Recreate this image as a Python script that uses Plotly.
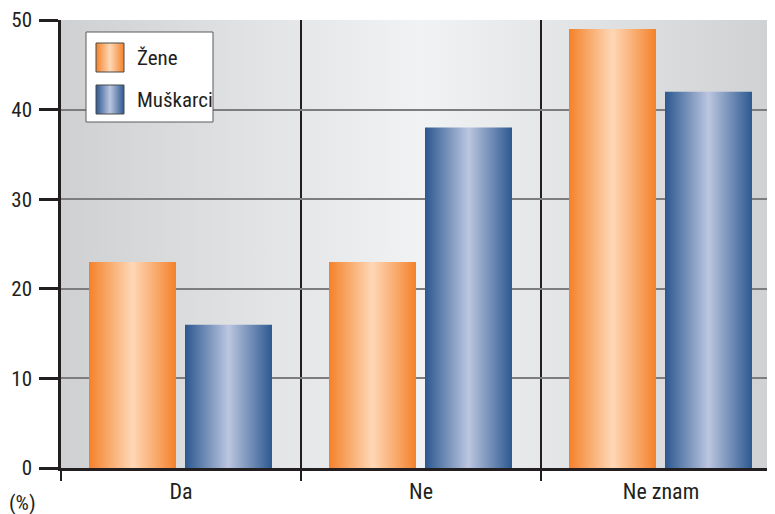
import base64
import plotly.graph_objects as go

# ---- data ----
categories = ["Da", "Ne", "Ne znam"]
series_names = ["Žene", "Muškarci"]
zene = [23, 23, 49]
muskarci = [16, 38, 42]
y_ticks = [0, 10, 20, 30, 40, 50]
y_label = "(%)"

FONT = "Liberation Sans Narrow, Roboto Condensed, DejaVu Sans Condensed, Arial Narrow, sans-serif"
DARK = "#231f20"
orange_scale = [[0, "#f4812a"], [0.5, "#fed8b6"], [1, "#f4822c"]]
blue_scale = [[0, "#2b5790"], [0.5, "#bcc6e0"], [1, "#2c5990"]]

n = len(categories)
bar_w = 87 / 240
left_pad = 28 / 240
inner_gap = 9 / 240

fig = go.Figure()

series = [(zene, orange_scale), (muskarci, blue_scale)]
for s_idx, (vals, scale) in enumerate(series):
    for i, v in enumerate(vals):
        x0 = i - 0.5 + left_pad + s_idx * (bar_w + inner_gap)
        x1 = x0 + bar_w
        fig.add_trace(go.Scatter(
            x=[x0, x1, x1, x0, x0], y=[0, 0, v, v, 0],
            mode="lines", fill="toself",
            line=dict(width=0, color="rgba(0,0,0,0)"),
            fillgradient=dict(type="horizontal", colorscale=scale),
            name=series_names[s_idx], showlegend=False,
            hovertemplate=f"{categories[i]}<br>{series_names[s_idx]}: {v}%<extra></extra>",
        ))

# ---- custom legend (overlay axes in page-pixel units) ----
def rect(x0, y0, x1, y1):
    return [x0, x1, x1, x0, x0], [y0, y0, y1, y1, y0]

bx, by = rect(86, 32, 213, 122)
fig.add_trace(go.Scatter(x=bx, y=by, xaxis="x2", yaxis="y2", mode="lines", fill="toself",
                         fillcolor="white", line=dict(color="#5a5a5a", width=1),
                         showlegend=False, hoverinfo="skip"))
for k, (scale, ytop) in enumerate([(orange_scale, 43), (blue_scale, 85)]):
    sx, sy = rect(96, ytop, 124, ytop + 29)
    fig.add_trace(go.Scatter(x=sx, y=sy, xaxis="x2", yaxis="y2", mode="lines", fill="toself",
                             fillgradient=dict(type="horizontal", colorscale=scale),
                             line=dict(color="#4a4a4a", width=1),
                             showlegend=False, hoverinfo="skip"))
    fig.add_annotation(x=135, y=ytop + 15, xref="x2", yref="y2", text=series_names[k],
                       showarrow=False, xanchor="left", yanchor="middle",
                       font=dict(family=FONT, size=21, color=DARK))

# ---- background gradient ----
svg = ('<svg xmlns="http://www.w3.org/2000/svg" width="300" height="100" viewBox="0 0 300 100" '
       'preserveAspectRatio="none"><defs><linearGradient id="g" x1="0" y1="0" x2="1" y2="0">'
       '<stop offset="0" stop-color="#cfd0d2"/><stop offset="0.5" stop-color="#f1f2f4"/>'
       '<stop offset="1" stop-color="#cfd0d2"/></linearGradient></defs>'
       '<rect width="300" height="100" fill="url(#g)"/></svg>')
src = "data:image/svg+xml;base64," + base64.b64encode(svg.encode()).decode()
fig.add_layout_image(dict(source=src, xref="x", yref="y", x=-0.5, y=max(y_ticks),
                          sizex=n, sizey=max(y_ticks), xanchor="left", yanchor="top",
                          sizing="stretch", layer="below"))

fig.add_annotation(text=y_label, xref="paper", yref="paper", x=0, y=0,
                   xanchor="center", yanchor="top", xshift=-39, yshift=-21,
                   showarrow=False, font=dict(family=FONT, size=21, color=DARK))

# page body adds an 8px offset, so the figure is 8px smaller with 8px less left/top margin
fig.update_layout(
    width=767, height=506,
    margin=dict(l=53, r=0, t=12, b=46),
    paper_bgcolor="white", plot_bgcolor="white",
    font=dict(family=FONT, size=21, color=DARK),
    showlegend=False,
    xaxis=dict(
        range=[-0.5, n - 0.5 - 6 / 240],
        tickmode="array", tickvals=list(range(n)), ticktext=categories,
        ticks="", showgrid=False, zeroline=False,
        showline=True, linecolor=DARK, linewidth=2.5,
        ticklabelstandoff=2,
        tickfont=dict(family=FONT, size=22, color=DARK),
        minor=dict(tickmode="array", tickvals=[i - 0.5 for i in range(n + 1)],
                   ticks="outside", ticklen=10, tickwidth=2, tickcolor=DARK,
                   showgrid=True, gridcolor=DARK, gridwidth=1.5),
        fixedrange=True,
    ),
    yaxis=dict(
        range=[0, max(y_ticks)], tickmode="array", tickvals=y_ticks,
        ticks="outside", ticklen=19, tickwidth=2.5, tickcolor=DARK,
        showgrid=True, gridcolor="#7d7d7d", gridwidth=1.5,
        zeroline=False, showline=True, linecolor=DARK, linewidth=2.5,
        ticklabelstandoff=3,
        tickfont=dict(family=FONT, size=21, color=DARK),
        fixedrange=True,
    ),
    xaxis2=dict(overlaying="x", range=[61, 775], visible=False, fixedrange=True),
    yaxis2=dict(overlaying="y", range=[468, 20], visible=False, fixedrange=True),
)

fig.write_html("out.html")
